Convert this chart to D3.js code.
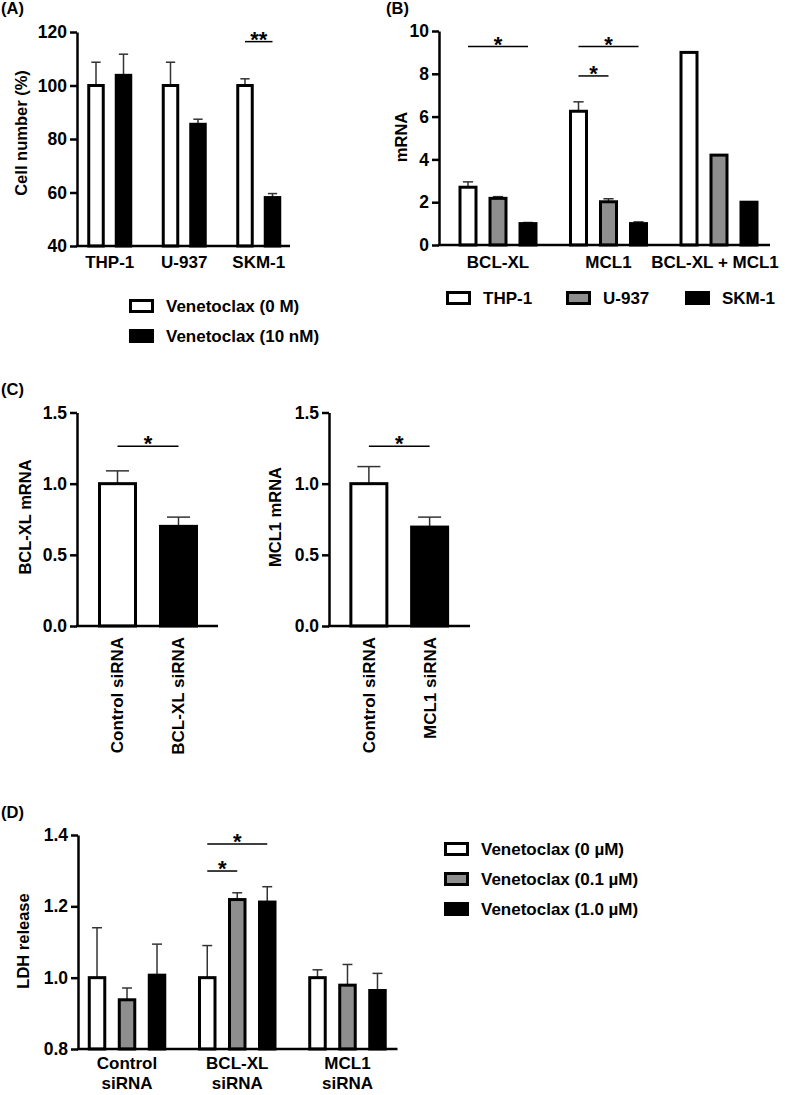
<!DOCTYPE html>
<html>
<head>
<meta charset="utf-8">
<script src="https://d3js.org/d3.v7.min.js"></script>
<style>
  body { margin: 0; background: #fff; }
  svg text { font-family: "Liberation Sans", Arial, sans-serif; font-weight: bold; fill: #000; }
</style>
</head>
<body>
<script>
// ---- data ----
// (A) cell number
var cellLines = ["THP-1", "U-937", "SKM-1"];
var aSeries = ["Venetoclax (0 M)", "Venetoclax (10 nM)"];
var aMean0 = [100, 100, 100];
var aSd0 = [8.7, 8.7, 2.5];
var aMean10 = [103.8, 85.5, 58.1];
var aSd10 = [7.9, 1.9, 1.5];
var aTicks = [40, 60, 80, 100, 120];

// (B) mRNA per cell line
var bGenes = ["BCL-XL", "MCL1", "BCL-XL + MCL1"];
var bSeries = ["THP-1", "U-937", "SKM-1"];
var bThp = [2.7, 6.25, 9.0];
var bThpSd = [0.25, 0.44, 0];
var bU937 = [2.18, 2.02, 4.2];
var bU937Sd = [0.08, 0.14, 0];
var bSkm = [1.0, 1.0, 2.0];
var bSkmSd = [0.05, 0.08, 0];
var bTicks = [0, 2, 4, 6, 8, 10];

// (C) knockdown
var cLeftCats = ["Control siRNA", "BCL-XL siRNA"];
var cLeftMean = [1.0, 0.7];
var cLeftSd = [0.09, 0.065];
var cRightCats = ["Control siRNA", "MCL1 siRNA"];
var cRightMean = [1.0, 0.695];
var cRightSd = [0.12, 0.07];
var cTicks = [0, 0.5, 1.0, 1.5];

// (D) LDH release
var dGroups = ["Control siRNA", "BCL-XL siRNA", "MCL1 siRNA"];
var dSeries = ["Venetoclax (0 µM)", "Venetoclax (0.1 µM)", "Venetoclax (1.0 µM)"];
var dV0 = [1.0, 1.0, 1.0];
var dSd0 = [0.14, 0.09, 0.022];
var dV01 = [0.938, 1.219, 0.979];
var dSd01 = [0.033, 0.019, 0.058];
var dV1 = [1.007, 1.212, 0.964];
var dSd1 = [0.087, 0.043, 0.048];
var dTicks = [0.8, 1.0, 1.2, 1.4];

var WHITE = "#ffffff", GREY = "#8e8e8e", BLACK = "#000000";

var svg = d3.select("body").append("svg")
  .attr("width", 785).attr("height", 1095);

// ---- helpers ----
function yAxis(y, ax, ticks, fmt) {
  var g = svg.append("g")
    .attr("transform", "translate(" + ax + ",0)")
    .call(d3.axisLeft(y).tickValues(ticks).tickFormat(fmt).tickSize(7).tickSizeOuter(0).tickPadding(3));
  g.selectAll("path, line").attr("stroke", "#000").attr("stroke-width", 2.5);
  g.selectAll("text").style("font-size", "17.5px");
}

function baseLine(x1, x2, yy) {
  svg.append("line").attr("x1", x1 - 1).attr("x2", x2).attr("y1", yy).attr("y2", yy)
    .attr("stroke", "#000").attr("stroke-width", 2.5);
}

function yLabel(txt, cx, cy) {
  svg.append("text").attr("transform", "translate(" + cx + "," + cy + ") rotate(-90)")
    .attr("text-anchor", "middle").attr("dy", "0.35em").style("font-size", "16.5px").text(txt);
}

function sig(x1, x2, yy, label) {
  svg.append("line").attr("x1", x1).attr("x2", x2).attr("y1", yy).attr("y2", yy)
    .attr("stroke", "#000").attr("stroke-width", 1.5);
  svg.append("text").attr("x", (x1 + x2) / 2).attr("y", yy + 5)
    .attr("text-anchor", "middle").style("font-size", "22px").text(label);
}

function bars(rows, y, y0, w) {
  // rows: {cx, v, sd, fill}
  rows.forEach(function(d) {
    if (d.sd > 0) {
      svg.append("line").attr("x1", d.cx).attr("x2", d.cx)
        .attr("y1", y(d.v)).attr("y2", y(d.v + d.sd))
        .attr("stroke", "#333").attr("stroke-width", 1.5);
      svg.append("line").attr("x1", d.cx - w * 0.32).attr("x2", d.cx + w * 0.32)
        .attr("y1", y(d.v + d.sd)).attr("y2", y(d.v + d.sd))
        .attr("stroke", "#333").attr("stroke-width", 1.5);
    }
  });
  svg.selectAll(null).data(rows).enter().append("rect")
    .attr("x", function(d) { return d.cx - w / 2; })
    .attr("y", function(d) { return y(d.v); })
    .attr("width", w)
    .attr("height", function(d) { return y(y0) - y(d.v); })
    .attr("fill", function(d) { return d.fill; })
    .attr("stroke", "#000").attr("stroke-width", 3);
}

function legendItem(x, cy, fill, label, size) {
  svg.append("rect").attr("x", x + 1.5).attr("y", cy - 5.5).attr("width", 22).attr("height", 11)
    .attr("fill", fill).attr("stroke", "#000").attr("stroke-width", 3);
  svg.append("text").attr("x", x + 37).attr("y", cy).attr("dy", "0.35em")
    .style("font-size", size).text(label);
}

function panelLabel(txt, x, yy) {
  svg.append("text").attr("x", x).attr("y", yy).style("font-size", "16.5px").text(txt);
}

// ---- (A) ----
(function() {
  var y = d3.scaleLinear().domain([40, 120]).range([246, 32]);
  var x = d3.scaleBand().domain(cellLines).range([72.5, 296]);
  var inner = d3.scalePoint().domain(aSeries).range([-13.75, 13.75]);
  var means = [aMean0, aMean10], sds = [aSd0, aSd10], fills = [WHITE, BLACK];
  var rows = [];
  aSeries.forEach(function(s, si) {
    cellLines.forEach(function(c, gi) {
      rows.push({ cx: x(c) + x.bandwidth() / 2 + inner(s), v: means[si][gi], sd: sds[si][gi], fill: fills[si] });
    });
  });
  bars(rows, y, 40, 14.5);
  yAxis(y, 77, aTicks, d3.format("d"));
  baseLine(77, 290, 246);
  cellLines.forEach(function(c) {
    svg.append("text").attr("x", x(c) + x.bandwidth() / 2).attr("y", 268)
      .attr("text-anchor", "middle").style("font-size", "17px").text(c);
  });
  yLabel("Cell number (%)", 21, 133);
  var cSkm = x("SKM-1") + x.bandwidth() / 2;
  sig(cSkm + inner(aSeries[0]), cSkm + inner(aSeries[1]), y(116.4), "**");
  legendItem(129, 306, WHITE, aSeries[0], "17px");
  legendItem(129, 336, BLACK, aSeries[1], "17px");
  panelLabel("(A)", 1, 14);
})();

// ---- (B) ----
(function() {
  var y = d3.scaleLinear().domain([0, 10]).range([245, 31]);
  var x = d3.scaleBand().domain(bGenes).range([442.75, 774.25]);
  var inner = d3.scalePoint().domain(bSeries).range([-30, 30]);
  var means = [bThp, bU937, bSkm], sds = [bThpSd, bU937Sd, bSkmSd], fills = [WHITE, GREY, BLACK];
  var rows = [];
  bSeries.forEach(function(s, si) {
    bGenes.forEach(function(gname, gi) {
      rows.push({ cx: x(gname) + x.bandwidth() / 2 + inner(s), v: means[si][gi], sd: sds[si][gi], fill: fills[si] });
    });
  });
  bars(rows, y, 0, 16);
  yAxis(y, 439, bTicks, d3.format("d"));
  baseLine(439, 770, 245);
  bGenes.forEach(function(gname) {
    svg.append("text").attr("x", x(gname) + x.bandwidth() / 2 - (gname === "BCL-XL + MCL1" ? 4 : 0)).attr("y", 268)
      .attr("text-anchor", "middle").style("font-size", "17px").text(gname);
  });
  yLabel("mRNA", 401, 137);
  var c1 = x("BCL-XL") + x.bandwidth() / 2, c2 = x("MCL1") + x.bandwidth() / 2;
  sig(c1 + inner("THP-1"), c1 + inner("SKM-1"), y(9.27), "*");
  sig(c2 + inner("THP-1"), c2 + inner("SKM-1"), y(9.27), "*");
  sig(c2 + inner("THP-1"), c2 + inner("U-937"), y(7.9), "*");
  var lx = [446, 566, 685];
  bSeries.forEach(function(s, i) { legendItem(lx[i], 298, fills[i], s, "17px"); });
  panelLabel("(B)", 386, 14);
})();

// ---- (C) ----
function cPanel(cats, mean, sd, ax, axEnd, band, yLab, yLabX) {
  var y = d3.scaleLinear().domain([0, 1.5]).range([626, 412.5]);
  var x = d3.scaleBand().domain(cats).range(band);
  var fills = [WHITE, BLACK];
  var rows = cats.map(function(c, i) {
    return { cx: x(c) + x.bandwidth() / 2, v: mean[i], sd: sd[i], fill: fills[i] };
  });
  bars(rows, y, 0, 36);
  yAxis(y, ax, cTicks, d3.format(".1f"));
  baseLine(ax, axEnd, 626);
  cats.forEach(function(c) {
    svg.append("text")
      .attr("transform", "translate(" + (x(c) + x.bandwidth() / 2) + ",637) rotate(-90)")
      .attr("text-anchor", "end").attr("dy", "0.35em").style("font-size", "17px").text(c);
  });
  yLabel(yLab, yLabX, 517);
  sig(rows[0].cx, rows[1].cx, y(1.263), "*");
}
cPanel(cLeftCats, cLeftMean, cLeftSd, 77, 218, [87, 209], "BCL-XL mRNA", 25);
cPanel(cRightCats, cRightMean, cRightSd, 329, 470, [338.5, 460], "MCL1 mRNA", 275);
panelLabel("(C)", 1, 395);

// ---- (D) ----
(function() {
  var y = d3.scaleLinear().domain([0.8, 1.4]).range([1049, 835]);
  var x = d3.scaleBand().domain(dGroups).range([71.9, 402.6]);
  var inner = d3.scalePoint().domain(dSeries).range([-30, 30]);
  var means = [dV0, dV01, dV1], sds = [dSd0, dSd01, dSd1], fills = [WHITE, GREY, BLACK];
  var rows = [];
  dSeries.forEach(function(s, si) {
    dGroups.forEach(function(gname, gi) {
      rows.push({ cx: x(gname) + x.bandwidth() / 2 + inner(s), v: means[si][gi], sd: sds[si][gi], fill: fills[si] });
    });
  });
  bars(rows, y, 0.8, 15.5);
  yAxis(y, 78, dTicks, d3.format(".1f"));
  baseLine(78, 397.5, 1049);
  dGroups.forEach(function(gname) {
    var parts = gname.split(" ");
    var t = svg.append("text").attr("x", x(gname) + x.bandwidth() / 2).attr("y", 1069)
      .attr("text-anchor", "middle").style("font-size", "17px");
    t.append("tspan").attr("x", x(gname) + x.bandwidth() / 2).text(parts[0]);
    t.append("tspan").attr("x", x(gname) + x.bandwidth() / 2).attr("dy", 20).text(parts[1]);
  });
  yLabel("LDH release", 23, 941);
  var c = x("BCL-XL siRNA") + x.bandwidth() / 2;
  sig(c + inner(dSeries[0]), c + inner(dSeries[2]), y(1.375), "*");
  sig(c + inner(dSeries[0]), c + inner(dSeries[1]), y(1.299), "*");
  dSeries.forEach(function(s, i) { legendItem(444, 849 + i * 30, fills[i], s, "17px"); });
  panelLabel("(D)", 1, 818);
})();
</script>
</body>
</html>
